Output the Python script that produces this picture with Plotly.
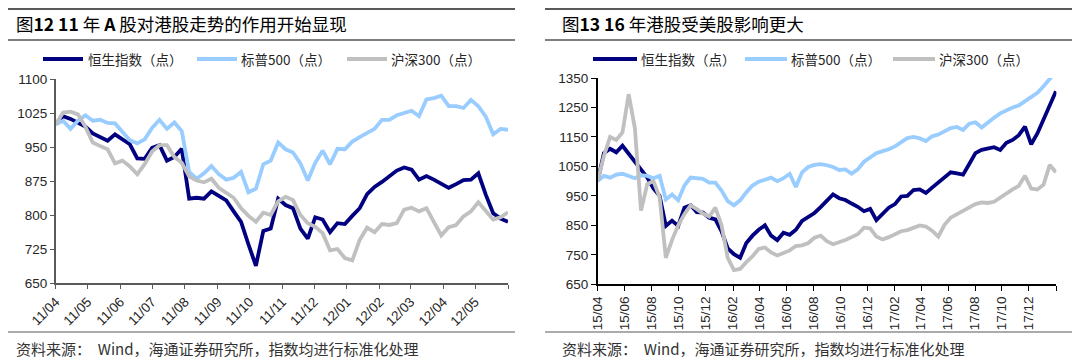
import pandas as pd
import plotly.graph_objects as go

W, H = 1080, 361
OFF = 8  # the page body adds an 8px margin; compensate so the picture lands in place

def px(x):
    return (x - OFF) / W

def py(y):
    return 1 - (y - OFF) / H

# ---------------- Left chart data (weekly, normalised) ----------------
left_start = "2011-04-01"
left_hsi = [1000, 1018, 1012, 1004, 995, 980, 972, 964, 978, 966,
            956, 925, 924, 948, 954, 920, 928, 946, 836, 838,
            836, 852, 842, 832, 808, 785, 735, 688, 765, 770,
            836, 822, 815, 770, 748, 795, 790, 762, 782, 780,
            798, 815, 846, 862, 873, 886, 898, 905, 900, 878,
            886, 878, 868, 860, 868, 877, 878, 892, 845, 804,
            792, 785]
left_spx = [1000, 1008, 990, 1008, 1020, 1008, 1010, 1003, 1002, 982,
            965, 958, 967, 992, 1010, 990, 1004, 985, 895, 880,
            892, 908, 890, 878, 882, 895, 850, 858, 912, 920,
            960, 945, 938, 914, 876, 915, 942, 912, 946, 945,
            962, 972, 982, 990, 1010, 1010, 1020, 1026, 1030, 1018,
            1055, 1058, 1063, 1040, 1040, 1036, 1054, 1040, 1017, 978,
            990, 988]
left_csi = [1000, 1026, 1028, 1022, 995, 960, 952, 945, 914, 920,
            907, 890, 912, 940, 954, 954, 928, 915, 885, 876,
            872, 880, 860, 848, 838, 815, 798, 785, 805, 800,
            830, 840, 833, 800, 782, 774, 760, 722, 725, 705,
            700, 745, 772, 762, 780, 778, 782, 812, 816, 808,
            815, 785, 755, 773, 778, 797, 808, 828, 808, 790,
            795, 806]
left_tick_vals = ["2011-04-01", "2011-05-01", "2011-06-01", "2011-07-01", "2011-08-01",
                  "2011-09-01", "2011-10-01", "2011-11-01", "2011-12-01", "2012-01-01",
                  "2012-02-01", "2012-03-01", "2012-04-01", "2012-05-01", "2012-06-01"]
left_tick_text = ["11/04", "11/05", "11/06", "11/07", "11/08", "11/09", "11/10", "11/11",
                  "11/12", "12/01", "12/02", "12/03", "12/04", "12/05", ""]
left_y_ticks = [650, 725, 800, 875, 950, 1025, 1100]

# ---------------- Right chart data (bi-weekly, normalised) ----------------
right_start = "2015-04-01"
right_hsi = [1000, 1095, 1110, 1098, 1120, 1092, 1068, 1035, 1012, 975,
             950, 848, 866, 848, 910, 918, 895, 893, 876, 870,
             830, 772, 752, 740, 790, 815, 835, 850, 815, 800,
             825, 818, 835, 865, 880, 892, 912, 935, 955, 942,
             936, 924, 913, 898, 906, 868, 888, 910, 922, 948,
             950, 970, 972, 960, 978, 995, 1010, 1030, 1026, 1022,
             1058, 1095, 1106, 1112, 1115, 1106, 1130, 1140, 1156, 1185,
             1125, 1162, 1210, 1264, 1305]
right_spx = [1000, 1018, 1012, 1022, 1025, 1018, 1010, 1020, 1018, 1010,
             1018, 938, 955, 935, 985, 1012, 1010, 1008, 995, 995,
             968, 932, 918, 935, 962, 985, 998, 1005, 1012, 1000,
             1010, 1025, 980, 1030, 1048, 1055, 1058, 1054, 1048, 1038,
             1040, 1025, 1040, 1066, 1082, 1095, 1102, 1108, 1118, 1132,
             1146, 1150, 1145, 1136, 1152, 1158, 1170, 1180, 1184, 1174,
             1195, 1200, 1182, 1200, 1215, 1230, 1241, 1250, 1257, 1272,
             1288, 1300, 1322, 1350, 1372]
right_csi = [1000, 1085, 1150, 1140, 1165, 1295, 1180, 900, 990, 1000,
             945, 740, 800, 850, 888, 918, 905, 890, 880, 910,
             850, 740, 698, 702, 725, 745, 770, 775, 758, 748,
             756, 765, 780, 782, 790, 808, 815, 796, 786, 792,
             800, 810, 820, 842, 840, 812, 802, 810, 820, 830,
             834, 842, 850, 846, 832, 812, 852, 876, 888, 898,
             910, 922, 928, 926, 930, 945, 960, 972, 984, 1018,
             975, 972, 988, 1055, 1030]
right_tick_vals = ["2015-04-01", "2015-06-01", "2015-08-01", "2015-10-01", "2015-12-01",
                   "2016-02-01", "2016-04-01", "2016-06-01", "2016-08-01", "2016-10-01",
                   "2016-12-01", "2017-02-01", "2017-04-01", "2017-06-01", "2017-08-01",
                   "2017-10-01", "2017-12-01", "2018-02-01"]
right_tick_text = ["15/04", "15/06", "15/08", "15/10", "15/12", "16/02", "16/04", "16/06",
                   "16/08", "16/10", "16/12", "17/02", "17/04", "17/06", "17/08", "17/10",
                   "17/12", ""]
right_y_ticks = [650, 750, 850, 950, 1050, 1150, 1250, 1350]

series_names = ["恒生指数（点）", "标普500（点）", "沪深300（点）"]
series_colors = ["#000080", "#99CCFF", "#C0C0C0"]

left_dates = pd.date_range(left_start, periods=len(left_hsi), freq="7D")
right_dates = pd.date_range(right_start, periods=len(right_hsi), freq="14D")

fig = go.Figure()
for vals, name, col in zip([left_hsi, left_spx, left_csi], series_names, series_colors):
    fig.add_trace(go.Scatter(x=left_dates, y=vals, name=name, mode="lines",
                             line=dict(color=col, width=3.8), xaxis="x", yaxis="y",
                             showlegend=False))
for vals, name, col in zip([right_hsi, right_spx, right_csi], series_names, series_colors):
    fig.add_trace(go.Scatter(x=right_dates, y=vals, name=name, mode="lines",
                             line=dict(color=col, width=3.8), xaxis="x2", yaxis="y2",
                             showlegend=False))

tickfont = dict(family="Liberation Sans, Arial, sans-serif", size=13.5, color="#262626")

fig.update_layout(
    width=W, height=H, autosize=False,
    margin=dict(l=0, r=0, t=0, b=0, pad=0, autoexpand=False),
    paper_bgcolor="white", plot_bgcolor="white",
    xaxis=dict(domain=[px(55.7), px(508)], type="date",
               range=[left_tick_vals[0], left_tick_vals[-1]],
               tickmode="array", tickvals=left_tick_vals, ticktext=left_tick_text,
               tickangle=-45, showgrid=False, zeroline=False, automargin=False,
               showline=True, linecolor="#595959", linewidth=1.5,
               ticks="outside", ticklen=4, tickcolor="#595959", tickwidth=1.3,
               tickfont=tickfont, anchor="y"),
    yaxis=dict(domain=[py(283), py(79)], range=[650, 1100],
               tickmode="array", tickvals=left_y_ticks,
               showgrid=False, zeroline=False, automargin=False,
               showline=True, linecolor="#595959", linewidth=1.5,
               ticks="outside", ticklen=4, tickcolor="#595959", tickwidth=1.3,
               tickfont=tickfont, anchor="x"),
    xaxis2=dict(domain=[px(597.7), px(1056.4)], type="date",
                range=[right_tick_vals[0], right_tick_vals[-1]],
                tickmode="array", tickvals=right_tick_vals, ticktext=right_tick_text,
                tickangle=-90, showgrid=False, zeroline=False, automargin=False,
                showline=True, linecolor="#000000", linewidth=1.5,
                ticks="outside", ticklen=5, tickcolor="#000000", tickwidth=1.3,
                tickfont=tickfont, anchor="y2"),
    yaxis2=dict(domain=[py(284.3), py(78)], range=[650, 1350],
                tickmode="array", tickvals=right_y_ticks,
                showgrid=False, zeroline=False, automargin=False,
                showline=True, linecolor="#000000", linewidth=1.5,
                ticks="outside", ticklen=5, tickcolor="#000000", tickwidth=1.3,
                tickfont=tickfont, anchor="x2"),
)

shapes = []
annotations = []
cjk = "Noto Sans CJK SC, Liberation Sans, sans-serif"

panels = [
    dict(x0=OFF, x1=515, title="图<b>12 11</b> 年 <b>A</b> 股对港股走势的作用开始显现", tx=14,
         legend=[(43, 83, 86), (197, 237, 239), (347, 387, 389)]),
    dict(x0=545, x1=1076, title="图<b>13 16</b> 年港股受美股影响更大", tx=560,
         legend=[(593, 637, 639), (745, 787, 789), (893, 935, 937)]),
]
for p in panels:
    shapes.append(dict(type="line", xref="paper", yref="paper", x0=px(p["x0"]), x1=px(p["x1"]),
                       y0=py(OFF + 1), y1=py(OFF + 1), line=dict(color="#595959", width=2)))
    shapes.append(dict(type="line", xref="paper", yref="paper", x0=px(p["x0"]), x1=px(p["x1"]),
                       y0=py(40), y1=py(40), line=dict(color="#000000", width=1.2)))
    shapes.append(dict(type="line", xref="paper", yref="paper", x0=px(p["x0"]), x1=px(p["x1"]),
                       y0=py(332), y1=py(332), line=dict(color="#595959", width=1.2)))
    annotations.append(dict(xref="paper", yref="paper", x=px(p["tx"]), y=py(23.5),
                            xanchor="left", yanchor="middle", showarrow=False,
                            text=p["title"], font=dict(family=cjk, size=17.5, color="#000000")))
    annotations.append(dict(xref="paper", yref="paper", x=px(p["tx"]), y=py(348),
                            xanchor="left", yanchor="middle", showarrow=False,
                            text="资料来源：  Wind，海通证券研究所，指数均进行标准化处理",
                            font=dict(family=cjk, size=15, color="#333333")))
    for (lx0, lx1, tx), name, col in zip(p["legend"], series_names, series_colors):
        shapes.append(dict(type="line", xref="paper", yref="paper", x0=px(lx0), x1=px(lx1),
                           y0=py(59), y1=py(59), line=dict(color=col, width=4)))
        annotations.append(dict(xref="paper", yref="paper", x=px(tx), y=py(59),
                                xanchor="left", yanchor="middle", showarrow=False,
                                text=name, font=dict(family=cjk, size=13.5, color="#262626")))

fig.update_layout(shapes=shapes, annotations=annotations)
fig.write_html("out.html")
